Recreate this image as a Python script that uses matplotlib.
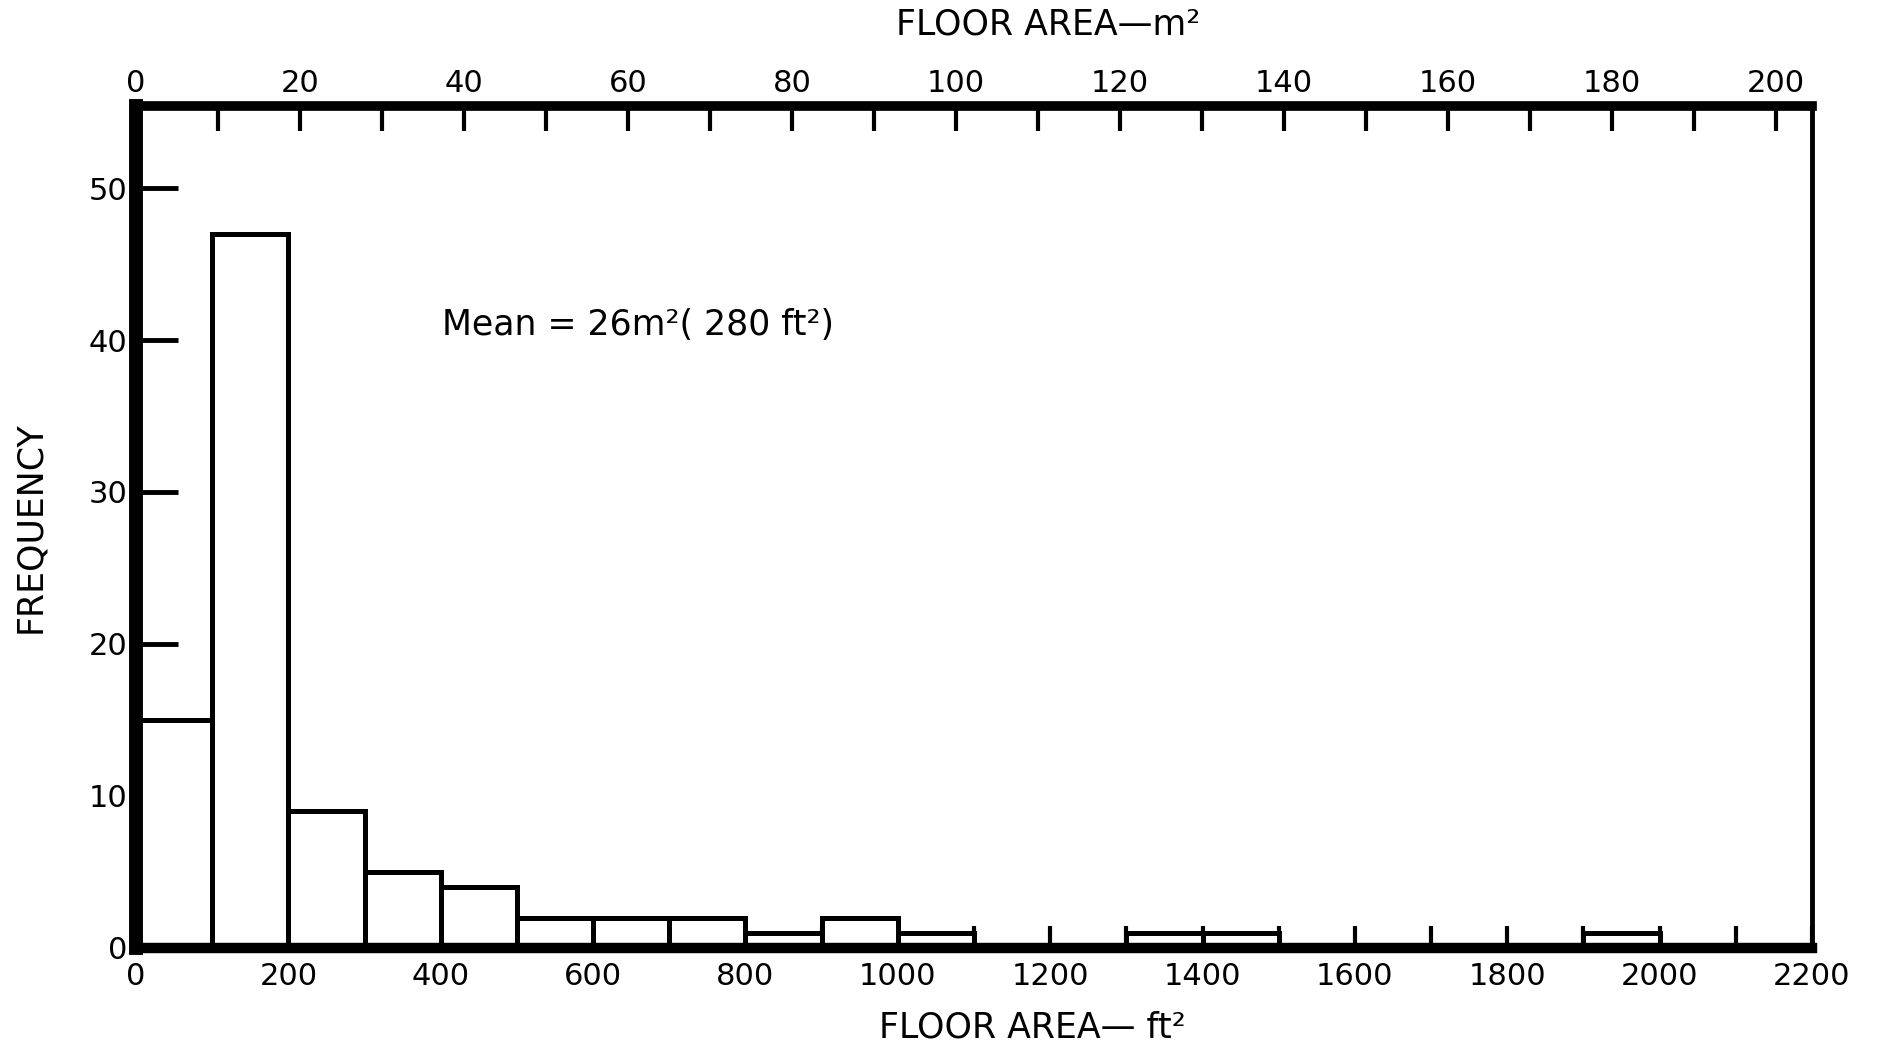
import matplotlib.pyplot as plt

# ==============================
# DATA (histogram of floor areas, 100 ft2 bins)
# ==============================
bin_left = [0, 100, 200, 300, 400, 500, 600, 700, 800, 900, 1000,
            1100, 1200, 1300, 1400, 1500, 1600, 1700, 1800, 1900, 2000, 2100]
counts = [15, 47, 9, 5, 4, 2, 2, 2, 1, 2, 1,
          0, 0, 1, 1, 0, 0, 0, 0, 1, 0, 0]

x_ticks = list(range(0, 2201, 200))
x_minor = list(range(0, 2201, 100))
y_ticks = [0, 10, 20, 30, 40, 50]
m2_ticks = list(range(0, 201, 20))
m2_minor = list(range(0, 211, 10))

FT2_PER_M2 = 10.764

plt.rcParams['font.family'] = ['DejaVu Sans']
FS = 22      # tick labels
LFS = 25     # axis labels / annotation

fig = plt.figure(figsize=(18.81, 10.47), dpi=100)
ax = fig.add_axes([0.0723, 0.0946, 0.8910, 0.8042])

ax.bar(bin_left, counts, width=100, align='edge', facecolor='white',
       edgecolor='black', linewidth=3.6, zorder=2)

ax.set_xlim(0, 2200)
ax.set_ylim(0, 55.4)

ax.spines['left'].set_linewidth(10)
ax.spines['top'].set_linewidth(7)
ax.spines['bottom'].set_linewidth(7.5)
ax.spines['right'].set_linewidth(3.5)
for s in ax.spines.values():
    s.set_zorder(3)
    s.set_capstyle('projecting')

ax.set_xticks(x_ticks)
ax.set_xticks(x_minor, minor=True)
ax.set_yticks(y_ticks)
ax.tick_params(axis='x', which='both', direction='in', length=16, width=3,
               labelsize=FS, pad=10)
ax.tick_params(axis='y', direction='in', length=30, width=3.5,
               labelsize=FS, pad=6)

ax.set_xlabel("FLOOR AREA\u2014 ft\u00b2", fontsize=LFS, va='center')
ax.xaxis.set_label_coords(0.535, -0.095)
ax.set_ylabel("FREQUENCY", fontsize=LFS, labelpad=30)

# top axis in m2
top = ax.secondary_xaxis('top', functions=(lambda x: x / FT2_PER_M2,
                                           lambda m: m * FT2_PER_M2))
top.set_xticks(m2_ticks)
top.set_xticks(m2_minor, minor=True)
top.tick_params(axis='x', which='both', direction='in', length=18, width=3,
                labelsize=FS, pad=6)
top.spines['top'].set_visible(False)
# top label placed in axes coords of the main axes
ax.text(0.544, 1.097, "FLOOR AREA\u2014m\u00b2", fontsize=LFS,
        ha='center', va='center', transform=ax.transAxes)

ax.text(402, 41.0, "Mean = 26m\u00b2( 280 ft\u00b2)", fontsize=LFS,
        va='center', ha='left')

fig.savefig("out.png", dpi=100)
